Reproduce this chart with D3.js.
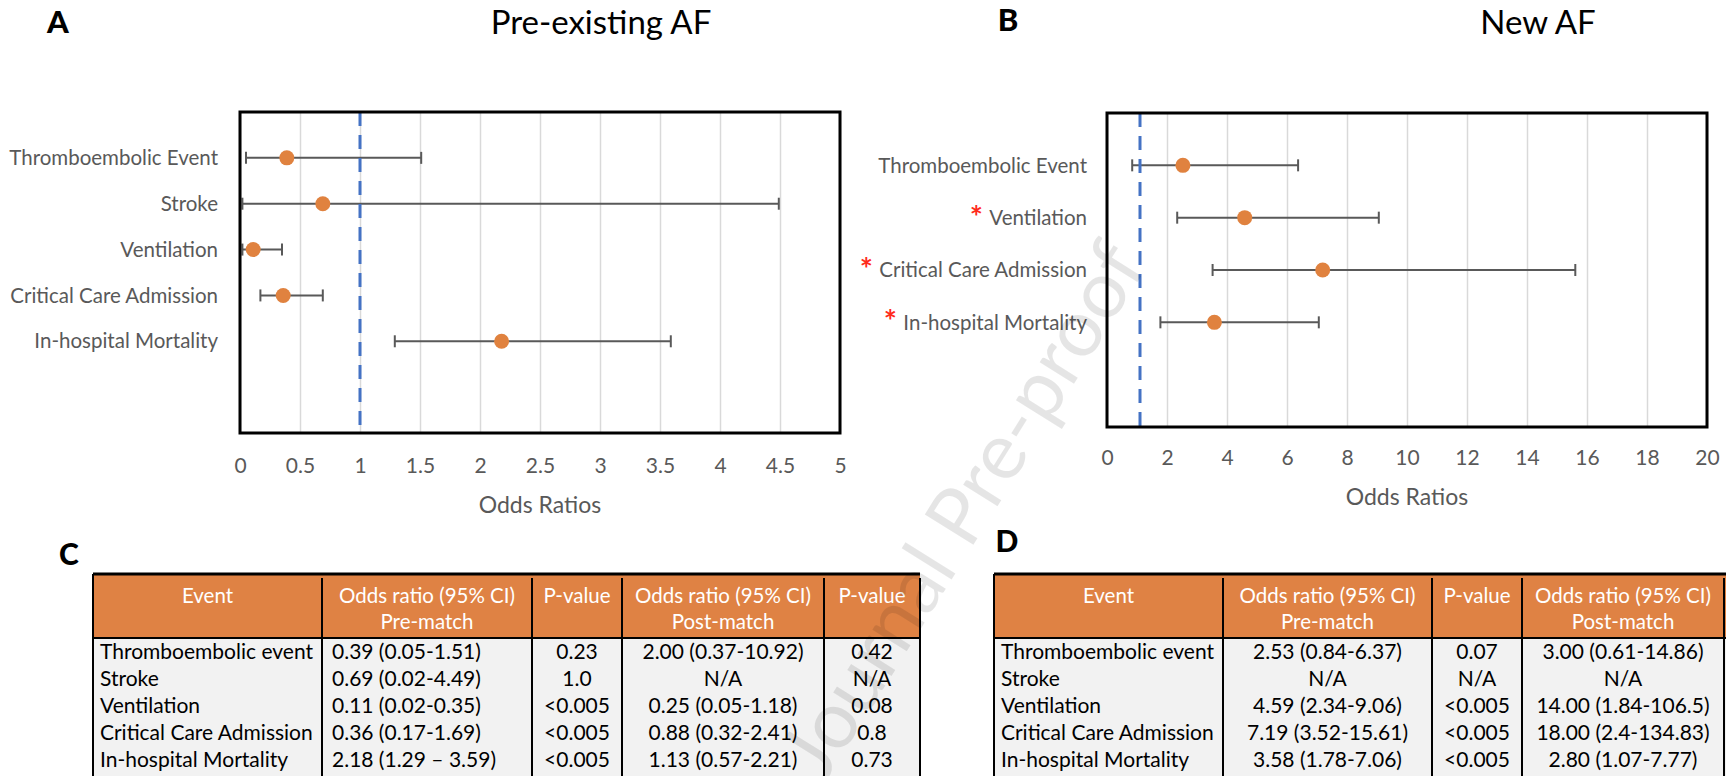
<!DOCTYPE html>
<html>
<head>
<meta charset="utf-8">
<script src="https://cdn.jsdelivr.net/npm/d3@7"></script>
<style>
  body { margin: 0; background: #fff; }
  svg { display: block; font-family: Lato, "Open Sans", sans-serif; }
</style>
</head>
<body>
<svg id="fig" width="1726" height="776"></svg>
<script>
  // --- panel A: pre-existing AF ---
  var eventsA = ['Thromboembolic Event', 'Stroke', 'Ventilation', 'Critical Care Admission', 'In-hospital Mortality'];
  var oddsA = [0.39, 0.69, 0.11, 0.36, 2.18];
  var lowA = [0.05, 0.02, 0.02, 0.17, 1.29];
  var highA = [1.51, 4.49, 0.35, 0.69, 3.59];
  var ticksA = [0, 0.5, 1, 1.5, 2, 2.5, 3, 3.5, 4, 4.5, 5];
  var refA = 1;

  // --- panel B: new AF ---
  var eventsB = ['Thromboembolic Event', 'Ventilation', 'Critical Care Admission', 'In-hospital Mortality'];
  var oddsB = [2.53, 4.59, 7.19, 3.58];
  var lowB = [0.84, 2.34, 3.52, 1.78];
  var highB = [6.37, 9.06, 15.61, 7.06];
  var starB = [false, true, true, true];
  var ticksB = [0, 2, 4, 6, 8, 10, 12, 14, 16, 18, 20];
  var refB = 1.1;

  // --- tables C and D ---
  var tableHead = [['Event'], ['Odds ratio (95% CI)', 'Pre-match'], ['P-value'], ['Odds ratio (95% CI)', 'Post-match'], ['P-value']];
  var tableEvents = ['Thromboembolic event', 'Stroke', 'Ventilation', 'Critical Care Admission', 'In-hospital Mortality'];
  var preOrC = ['0.39 (0.05-1.51)', '0.69 (0.02-4.49)', '0.11 (0.02-0.35)', '0.36 (0.17-1.69)', '2.18 (1.29 \u2013 3.59)'];
  var prePC = ['0.23', '1.0', '<0.005', '<0.005', '<0.005'];
  var postOrC = ['2.00 (0.37-10.92)', 'N/A', '0.25 (0.05-1.18)', '0.88 (0.32-2.41)', '1.13 (0.57-2.21)'];
  var postPC = ['0.42', 'N/A', '0.08', '0.8', '0.73'];
  var preOrD = ['2.53 (0.84-6.37)', 'N/A', '4.59 (2.34-9.06)', '7.19 (3.52-15.61)', '3.58 (1.78-7.06)'];
  var prePD = ['0.07', 'N/A', '<0.005', '<0.005', '<0.005'];
  var postOrD = ['3.00 (0.61-14.86)', 'N/A', '14.00 (1.84-106.5)', '18.00 (2.4-134.83)', '2.80 (1.07-7.77)'];

  var svg = d3.select('#fig');
  var grey = '#595959';
  var orange = '#e0823f';

  function forest(o) {
    var g = svg.append('g');
    var x = d3.scaleLinear().domain(d3.extent(o.ticks)).range([o.left, o.right]);
    var y = d3.scaleLinear().domain([0, o.slots]).range([o.top, o.bottom]);
    var h = o.bottom - o.top;

    // vertical gridlines
    g.append('g')
      .attr('transform', 'translate(0,' + o.bottom + ')')
      .call(d3.axisBottom(x).tickValues(o.ticks).tickSize(-h).tickFormat(''))
      .call(function(s) { s.select('.domain').remove(); })
      .selectAll('line').attr('stroke', '#d9d9d9').attr('stroke-width', 1.5);

    // tick labels
    var ax = g.append('g')
      .attr('transform', 'translate(0,' + o.tickY + ')')
      .call(d3.axisBottom(x).tickValues(o.ticks).tickSize(0).tickFormat(function(d) { return String(d); }));
    ax.select('.domain').remove();
    ax.selectAll('text')
      .attr('y', 0).attr('dy', '0.35em')
      .attr('fill', grey).style('font-size', '21px').style('font-family', 'Lato, sans-serif');

    g.append('text')
      .attr('x', (o.left + o.right) / 2).attr('y', o.titleY).attr('dy', '0.35em')
      .attr('text-anchor', 'middle').attr('fill', grey).style('font-size', '23px')
      .text('Odds Ratios');

    var rows = o.events.map(function(e, i) {
      return { name: e, or: o.odds[i], lo: o.low[i], hi: o.high[i], star: o.star ? o.star[i] : false, pos: i + 1 };
    });

    // category labels
    var labels = g.selectAll('text.cat').data(rows).enter().append('text')
      .attr('class', 'cat')
      .attr('x', o.left - o.labelGap).attr('y', function(d) { return y(d.pos); }).attr('dy', '0.35em')
      .attr('text-anchor', 'end').attr('fill', grey).style('font-size', '20.5px')
      .text(function(d) { return d.name; });

    labels.each(function(d) {
      if (!d.star) return;
      var w = this.getComputedTextLength();
      g.append('text')
        .attr('x', o.left - o.labelGap - w - 13).attr('y', y(d.pos) + 10)
        .attr('text-anchor', 'middle').attr('fill', '#ff2a1a')
        .style('font-size', '31px').style('font-weight', 'bold')
        .text('*');
    });

    // error bars
    var bars = g.selectAll('g.bar').data(rows).enter().append('g').attr('class', 'bar');
    bars.append('line')
      .attr('x1', function(d) { return x(d.lo); }).attr('x2', function(d) { return x(d.hi); })
      .attr('y1', function(d) { return y(d.pos); }).attr('y2', function(d) { return y(d.pos); })
      .attr('stroke', grey).attr('stroke-width', 2);
    ['lo', 'hi'].forEach(function(k) {
      bars.append('line')
        .attr('x1', function(d) { return x(d[k]); }).attr('x2', function(d) { return x(d[k]); })
        .attr('y1', function(d) { return y(d.pos) - 6; }).attr('y2', function(d) { return y(d.pos) + 6; })
        .attr('stroke', grey).attr('stroke-width', 2);
    });

    // reference line
    g.append('line')
      .attr('x1', x(o.ref)).attr('x2', x(o.ref))
      .attr('y1', o.top).attr('y2', o.bottom)
      .attr('stroke', '#4472c4').attr('stroke-width', 3).attr('stroke-dasharray', '14,9');

    bars.append('circle')
      .attr('cx', function(d) { return x(d.or); }).attr('cy', function(d) { return y(d.pos); })
      .attr('r', 7.5).attr('fill', orange);

    // plot frame
    g.append('rect')
      .attr('x', o.left).attr('y', o.top).attr('width', o.right - o.left).attr('height', h)
      .attr('fill', 'none').attr('stroke', '#000').attr('stroke-width', 3);

    svg.append('text')
      .attr('x', o.titleX).attr('y', 22).attr('dy', '0.35em').attr('text-anchor', 'middle')
      .attr('fill', '#000').style('font-size', '33px').text(o.title);
  }

  forest({ events: eventsA, odds: oddsA, low: lowA, high: highA, ticks: ticksA, ref: refA,
    left: 240, right: 840, top: 112, bottom: 433, slots: 7, tickY: 466, titleY: 505, labelGap: 22,
    title: 'Pre-existing AF', titleX: 601 });
  forest({ events: eventsB, odds: oddsB, low: lowB, high: highB, star: starB, ticks: ticksB, ref: refB,
    left: 1107, right: 1707, top: 113, bottom: 427, slots: 6, tickY: 458, titleY: 497, labelGap: 20,
    title: 'New AF', titleX: 1538 });

  function table(o) {
    var g = svg.append('g');
    var cols = o.cols;
    var top = 574, headH = 64, rowH = 27, firstRow = 652;
    var right = cols[cols.length - 1];

    g.append('rect').attr('x', cols[0]).attr('y', top).attr('width', right - cols[0]).attr('height', headH)
      .attr('fill', '#df8244');
    g.append('rect').attr('x', cols[0]).attr('y', top + headH).attr('width', right - cols[0]).attr('height', 200)
      .attr('fill', '#f2f2f2');

    tableHead.forEach(function(lines, c) {
      if (c >= o.columns.length || !o.columns[c]) return;
      var cx = (cols[c] + cols[c + 1]) / 2;
      lines.forEach(function(t, k) {
        g.append('text').attr('x', cx).attr('y', 596 + k * 26).attr('dy', '0.35em')
          .attr('text-anchor', 'middle').attr('fill', '#fff').style('font-size', '20.5px').text(t);
      });
    });

    o.columns.forEach(function(vals, c) {
      if (!vals) return;
      var align = o.align[c];
      g.selectAll(null).data(vals).enter().append('text')
        .attr('x', align === 'start' ? cols[c] + o.pad[c] : (cols[c] + cols[c + 1]) / 2)
        .attr('y', function(d, i) { return firstRow + i * rowH; }).attr('dy', '0.35em')
        .attr('text-anchor', align).attr('fill', '#000').style('font-size', '21px')
        .text(function(d) { return d; });
    });

    // rules
    g.append('line').attr('x1', cols[0]).attr('x2', right).attr('y1', top).attr('y2', top)
      .attr('stroke', '#000').attr('stroke-width', 3);
    g.append('line').attr('x1', cols[0]).attr('x2', right).attr('y1', top + headH).attr('y2', top + headH)
      .attr('stroke', '#000').attr('stroke-width', 2);
    cols.forEach(function(cx, i) {
      g.append('line').attr('x1', cx).attr('x2', cx).attr('y1', i === 0 ? top : top + 4).attr('y2', 800)
        .attr('stroke', '#000').attr('stroke-width', 2);
    });

    svg.append('text').attr('x', o.labelX).attr('y', o.labelY).attr('dy', '0.35em')
      .attr('text-anchor', 'middle').style('font-size', '30px').style('font-weight', '900').text(o.label);
  }

  table({ cols: [93, 322, 532, 622, 824, 920],
    columns: [tableEvents, preOrC, prePC, postOrC, postPC],
    align: ['start', 'start', 'middle', 'middle', 'middle'], pad: [7, 10, 0, 0, 0],
    label: 'C', labelX: 69, labelY: 554 });
  table({ cols: [994, 1223, 1432, 1522, 1724, 1830],
    columns: [tableEvents, preOrD, prePD, postOrD],
    align: ['start', 'middle', 'middle', 'middle'], pad: [7, 0, 0, 0],
    label: 'D', labelX: 1007, labelY: 541 });

  svg.append('text').attr('x', 58).attr('y', 22).attr('dy', '0.35em').attr('text-anchor', 'middle')
    .style('font-size', '31px').style('font-weight', '900').text('A');
  svg.append('text').attr('x', 1008).attr('y', 20).attr('dy', '0.35em').attr('text-anchor', 'middle')
    .style('font-size', '31px').style('font-weight', '900').text('B');

  // watermark
  svg.append('text')
    .attr('transform', 'translate(962,510) rotate(-58)')
    .attr('text-anchor', 'middle').attr('dy', '0.35em')
    .attr('fill', '#000').attr('fill-opacity', 0.1)
    .style('font-size', '80px').text('Journal Pre-proof');
</script>
</body>
</html>
